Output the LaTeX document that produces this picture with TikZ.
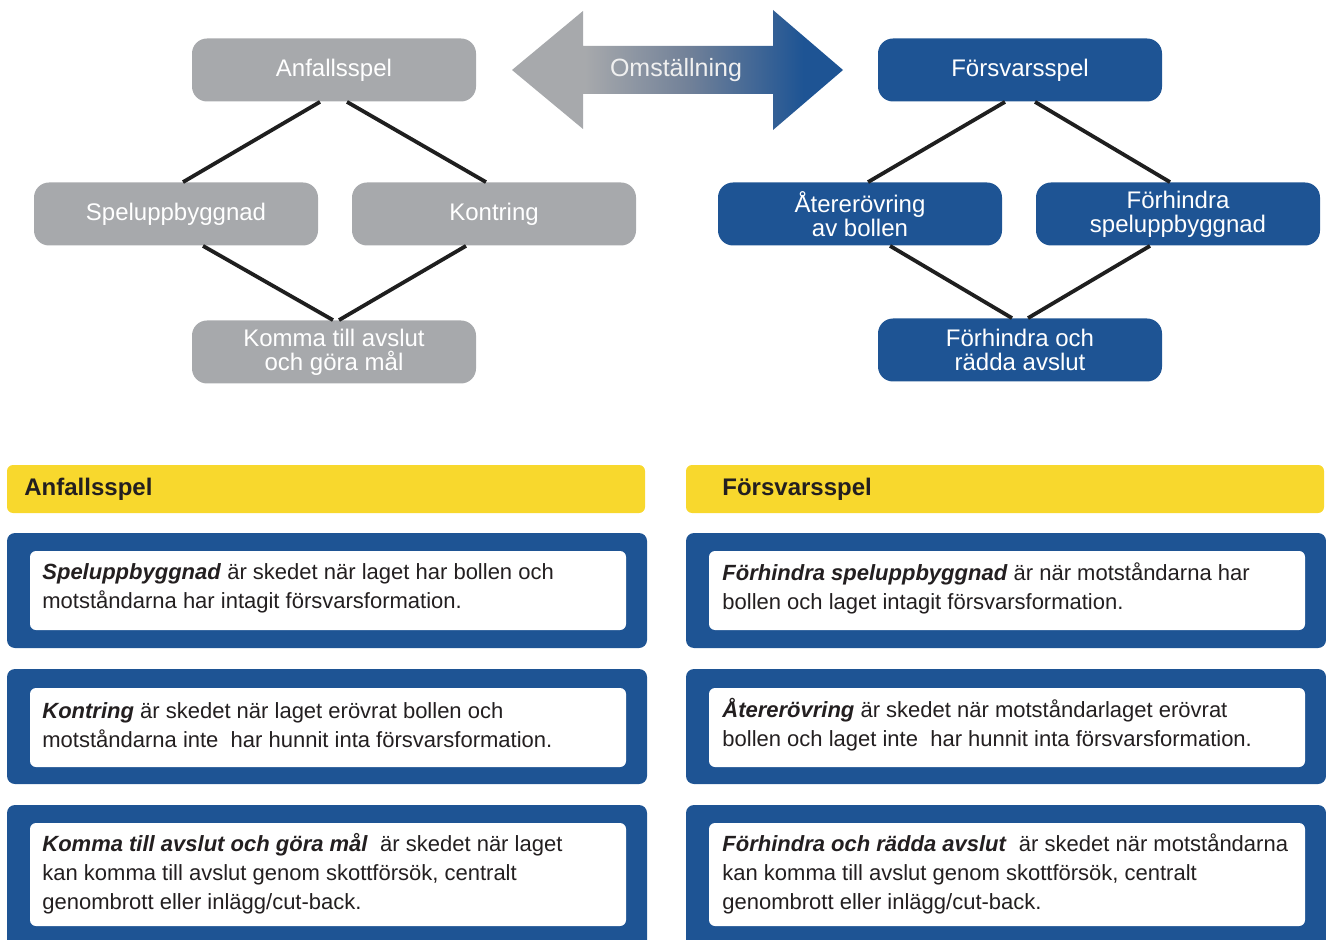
\documentclass[tikz,border=0pt]{standalone}
\usepackage{fontspec}
\setmainfont{Liberation Sans}
\usepackage{xcolor}
\usepackage{tikz}
\usetikzlibrary{positioning, calc}
\definecolor{phasegray}{RGB}{167, 169, 172}
\definecolor{phaseblue}{RGB}{30, 84, 148}
\definecolor{shiftmid}{RGB}{112, 128, 152}
\definecolor{headyellow}{RGB}{248, 216, 45}
\definecolor{bodytext}{RGB}{35, 31, 32}
\pgfdeclarehorizontalshading{shiftshade}{100bp}{color(0bp)=(phasegray); color(36bp)=(phasegray); color(52bp)=(shiftmid); color(69bp)=(phaseblue); color(100bp)=(phaseblue)}

\begin{document}
\begin{tikzpicture}[
        x=0.5pt, y=-0.5pt,
        phase/.style={rectangle, rounded corners=7.5pt, text=white, align=center, inner sep=0pt, minimum width=142pt, minimum height=31.5pt, font=\fontsize{12}{12}\selectfont},
        attack/.style={phase, fill=phasegray},
        defend/.style={phase, fill=phaseblue},
        link/.style={line width=1.9pt, draw=black!88},
        headbar/.style={rectangle, fill=headyellow, rounded corners=3pt, minimum width=319pt, minimum height=24pt},
        headtext/.style={anchor=west, inner sep=0pt, font=\bfseries\fontsize{12}{12}\selectfont, text=bodytext},
        bluebox/.style={rectangle, fill=phaseblue, rounded corners=4pt, minimum width=320pt},
        whitebox/.style={rectangle, fill=white, rounded corners=3pt, minimum width=298pt},
        desc/.style={anchor=west, align=left, inner sep=0pt, text=bodytext, font=\fontsize{11}{14.5}\selectfont}
    ]
        \useasboundingbox (0,0) rectangle (1326,940);
        \clip (0,0) rectangle (1326,940);

        % Attacking phases
        \node[attack] (anf) at (334,70) {Anfallsspel};
        \node[attack] (spel) at (176,214) {Speluppbyggnad};
        \node[attack] (kont) at (494,214) {Kontring};
        \node[attack] (komma) at (334,352) {Komma till avslut\\ och göra mål};

        \draw[link] ($(anf.south)+(-14,0)$) -- ($(spel.north)+(7,0)$);
        \draw[link] ($(anf.south)+(13,0)$) -- ($(kont.north)+(-8,0)$);
        \draw[link] ($(spel.south)+(27,0)$) -- ($(komma.north)+(-1,0)$);
        \draw[link] ($(kont.south)+(-28,0)$) -- ($(komma.north)+(5,0)$);

        % Defending phases
        \node[defend] (fors) at (1020,70) {Försvarsspel};
        \node[defend] (ater) at (860,214) {Återerövring\\ av bollen};
        \node[defend] (forh) at (1178,214) {Förhindra\\ speluppbyggnad};
        \node[defend] (foroch) at (1020,350) {Förhindra och\\ rädda avslut};

        \draw[link] ($(fors.south)+(-15,0)$) -- ($(ater.north)+(8,0)$);
        \draw[link] ($(fors.south)+(15,0)$) -- ($(forh.north)+(-8,0)$);
        \draw[link] ($(ater.south)+(30,0)$) -- ($(foroch.north)+(-8,0)$);
        \draw[link] ($(forh.south)+(-28,0)$) -- ($(foroch.north)+(8,0)$);

        % Transition arrow
        \shade[shading=shiftshade] (512,70) -- (583,11) -- (583,46) -- (773,46) -- (773,10) -- (843,70)
            -- (773,130) -- (773,94) -- (583,94) -- (583,129) -- cycle;
        \node[text=white!94!black, font=\fontsize{12.5}{12.5}\selectfont] (omst) at (676,70) {Omställning};

        % Headings
        \node[headbar] (anfbar) at (326,489) {};
        \node[headtext] (anfhead) at (24,489) {Anfallsspel};
        \node[headbar] (forsbar) at (1005,489) {};
        \node[headtext] (forshead) at (722,489) {Försvarsspel};

        % Attack descriptions
        \node[bluebox, minimum height=57.5pt] (ablue1) at (327,590.5) {};
        \node[whitebox, minimum height=39.5pt] (awhite1) at (328,590.5) {};
        \node[desc] (atext1) at (42,588) {\textbf{\textit{Speluppbyggnad}} är skedet när laget har bollen och\\ motståndarna har intagit försvarsformation.};

        \node[bluebox, minimum height=57.5pt] (ablue2) at (327,726.5) {};
        \node[whitebox, minimum height=39.5pt] (awhite2) at (328,727.5) {};
        \node[desc] (atext2) at (42,725) {\textbf{\textit{Kontring}} är skedet när laget erövrat bollen och\\ motståndarna inte\ \ har hunnit inta försvarsformation.};

        \node[bluebox, minimum height=71.5pt] (ablue3) at (327,876.5) {};
        \node[whitebox, minimum height=51.5pt] (awhite3) at (328,874.5) {};
        \node[desc] (atext3) at (42,874) {\textbf{\textit{Komma till avslut och göra mål}}\ \ är skedet när laget\\ kan komma till avslut genom skottförsök, centralt\\ genombrott eller inlägg/cut-back.};

        % Defence descriptions
        \node[bluebox, minimum height=57.5pt] (dblue1) at (1006,590.5) {};
        \node[whitebox, minimum height=39.5pt] (dwhite1) at (1007,590.5) {};
        \node[desc] (dtext1) at (722,588) {\textbf{\textit{Förhindra speluppbyggnad}} är när motståndarna har\\ bollen och laget intagit försvarsformation.};

        \node[bluebox, minimum height=57.5pt] (dblue2) at (1006,726.5) {};
        \node[whitebox, minimum height=39.5pt] (dwhite2) at (1007,727.5) {};
        \node[desc] (dtext2) at (722,725) {\textbf{\textit{Återerövring}} är skedet när motståndarlaget erövrat\\ bollen och laget inte\ \ har hunnit inta försvarsformation.};

        \node[bluebox, minimum height=71.5pt] (dblue3) at (1006,876.5) {};
        \node[whitebox, minimum height=51.5pt] (dwhite3) at (1007,874.5) {};
        \node[desc] (dtext3) at (722,874) {\textbf{\textit{Förhindra och rädda avslut}}\ \ är skedet när motståndarna\\ kan komma till avslut genom skottförsök, centralt\\ genombrott eller inlägg/cut-back.};
    \end{tikzpicture}
\end{document}
